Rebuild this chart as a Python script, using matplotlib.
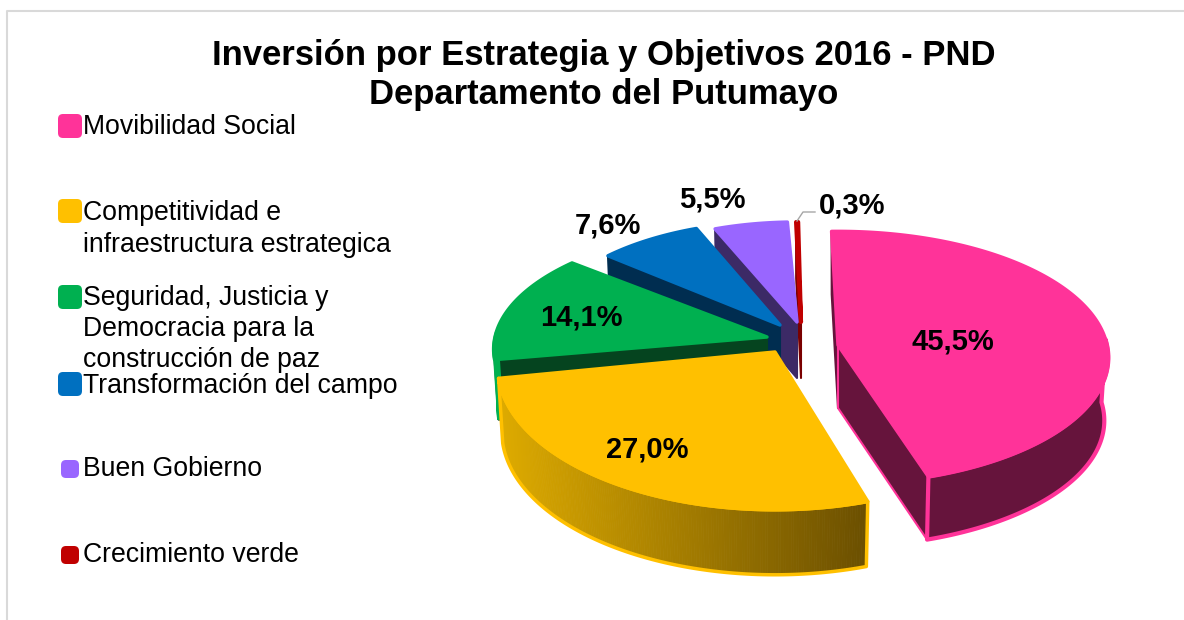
import numpy as np
import matplotlib
matplotlib.use('Agg')
import matplotlib.pyplot as plt
from matplotlib.patches import FancyBboxPatch, Polygon

matplotlib.rc('font', family=['Liberation Sans', 'DejaVu Sans'])

categories = ['Movibilidad Social', 'Competitividad e\ninfraestructura estrategica',
              'Seguridad, Justicia y\nDemocracia para la\nconstrucción de paz',
              'Transformación del campo', 'Buen Gobierno', 'Crecimiento verde']
values = [45.5, 27.0, 14.1, 7.6, 5.5, 0.3]
value_labels = ['45,5%', '27,0%', '14,1%', '7,6%', '5,5%', '0,3%']

colors = ['#FF3399', '#FFC000', '#00B050', '#0070C0', '#9966FF', '#C00000']
cut_colors = ['#66143C', '#6B5000', '#05441F', '#002D50', '#3C2A66', '#7A0000']

# layout in pixels: apex x, apex y, radius x, radius y
geom = [(838, 345, 269, 125), (775, 352, 276, 142), (767, 337, 272, 122),
        (780, 325, 240, 114), (797, 322, 235, 110), (801, 322, 120, 110)]
depths = [63, 65, 60, 60, 56, 56]
persp = 0.1
bottom_scale = 0.985
start_angle = -1.5

label_xy = [(953, 341), (647, 449), (581, 317), (608, 225), (712, 199), (852, 205)]
legend_y = [127, 229, 329, 386, 469, 555]
key_y = [126, 211, 297, 384, 469, 555]
key_size = [24, 24, 24, 24, 18, 18]

fig = plt.figure(figsize=(11.84, 6.2), dpi=100)
ax = fig.add_axes([0, 0, 1, 1])
ax.set_xlim(0, 1184)
ax.set_ylim(620, 0)
ax.axis('off')

# chart frame, only top and left show
ax.plot([7, 7, 1184], [620, 11, 11], color='#D9D9D9', linewidth=1.5)


def project(g, theta):
    t = np.radians(theta)
    u, v = np.sin(t), np.cos(t)
    w = 1 + persp * v
    return g[0] + g[2] * u / w, g[1] - g[3] * v / w


def draw_slice(i, t0, t1):
    g = geom[i]
    d = depths[i]
    ts = np.linspace(t0, t1, 200)
    x, y = project(g, ts)
    xb = g[0] + (x - g[0]) * bottom_scale
    yb = y + d
    col = colors[i]
    cut = cut_colors[i]
    lw = 1.5 if i != 5 else 2

    # cut faces, the back slices only show the lower one
    if i == 0:
        faces = [(0, cut, cut), (-1, cut, col)]
    elif i == 1:
        faces = []
    else:
        faces = [(0, cut, cut)]
    for k, fc, ec in faces:
        pts = [(g[0], g[1]), (x[k], y[k]), (xb[k], yb[k]), (g[0], g[1] + d)]
        ax.add_patch(Polygon(pts, closed=True, facecolor=fc, edgecolor=ec, linewidth=min(lw, 1.5), joinstyle='round'))

    # outer rim, front half only
    front = np.cos(np.radians(ts)) < 0.05
    if front.sum() > 1:
        rx, ry, rxb, ryb = x[front], y[front], xb[front], yb[front]
        band = np.r_[np.c_[rx, ry], np.c_[rxb, ryb][::-1]]
        if i == 1:
            # yellow one is shaded left to right
            x0, x1 = rx.min(), rx.max()
            for j in range(len(rx) - 1):
                f = (rx[j] - x0) / (x1 - x0)
                c = np.array([0.87, 0.67, 0.0]) * (1 - f) + np.array([0.42, 0.31, 0.0]) * f
                pts = [(rx[j], ry[j]), (rx[j + 1], ry[j + 1]), (rxb[j + 1], ryb[j + 1]), (rxb[j], ryb[j])]
                ax.add_patch(Polygon(pts, closed=True, facecolor=c, edgecolor=c, linewidth=0.6))
            ax.add_patch(Polygon(band, closed=True, fill=False, edgecolor=col, linewidth=2.5, joinstyle='round'))
        elif i == 0:
            ax.add_patch(Polygon(band, closed=True, facecolor=cut, edgecolor=col, linewidth=3, joinstyle='round'))
        else:
            ax.add_patch(Polygon(band, closed=True, facecolor=col, edgecolor=col, linewidth=2))

    # top face
    ax.add_patch(Polygon(np.r_[[(g[0], g[1])], np.c_[x, y]], closed=True, facecolor=col,
                         edgecolor=col, linewidth=lw + 1, joinstyle='round'))


edges = start_angle + np.cumsum([0] + values) * 3.6
# paint from the back to the front
for i in [5, 4, 3, 2, 1, 0]:
    draw_slice(i, edges[i], edges[i + 1])

for txt, (lx, ly) in zip(value_labels, label_xy):
    ax.text(lx, ly, txt, fontsize=21, fontweight='bold', ha='center', va='center', color='black')

# leader for the small slice
ax.plot([797, 803, 815], [221, 212, 212], color='#A6A6A6', linewidth=1)

for i, cat in enumerate(categories):
    s = key_size[i]
    ax.add_patch(FancyBboxPatch((70 - s / 2 + 3, key_y[i] - s / 2 + 3), s - 6, s - 6,
                                boxstyle='round,pad=3,rounding_size=5',
                                facecolor=colors[i], edgecolor='none'))
    ax.text(83, legend_y[i], cat, fontsize=19.2, ha='left', va='center', linespacing=1.26, color='black')

ax.text(603.5, 75, 'Inversión por Estrategia y Objetivos 2016 - PND\nDepartamento del Putumayo',
        fontsize=24.9, fontweight='bold', ha='center', va='center', linespacing=1.2)

fig.savefig('out.png', dpi=100)
